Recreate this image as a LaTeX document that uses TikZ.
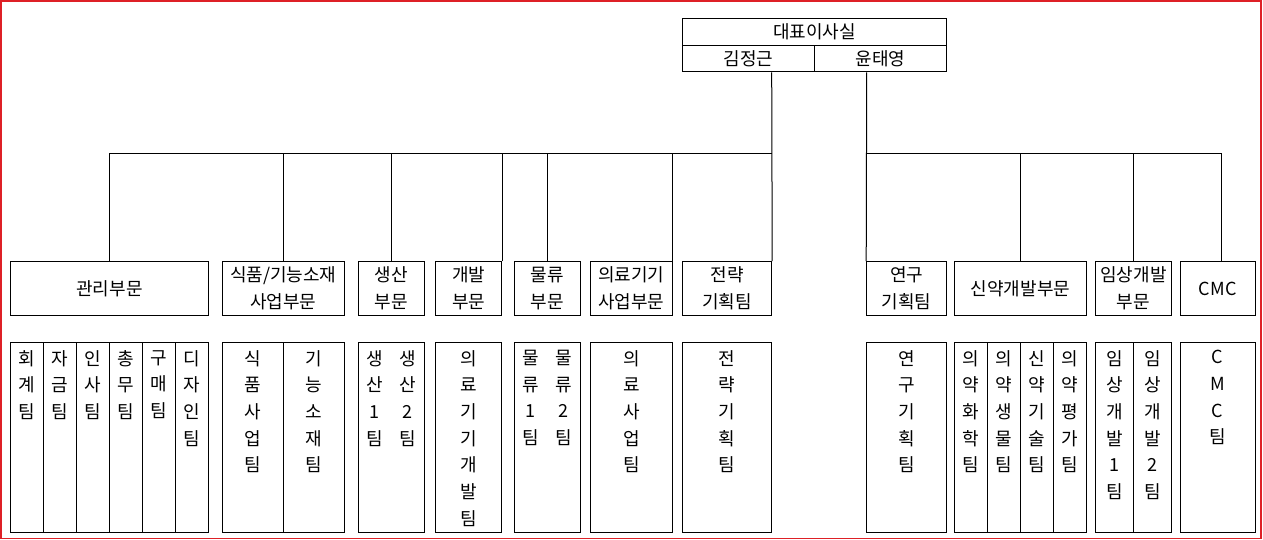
\documentclass[tikz,border=0pt]{standalone}
\usepackage{fontspec}
\newfontfamily\kr{Noto Sans CJK KR}
\usepackage{tikz}
\usetikzlibrary{positioning}
\definecolor{framered}{RGB}{222,32,38}
\tikzset{
every picture/.style={line width=1pt},
%%%%%%%%%%  Node styles
headbox/.style={draw, rectangle, inner sep=0, minimum height=27pt,
                font=\kr\fontsize{18}{26.7}\selectfont},
divbox/.style={draw, rectangle, inner sep=0, minimum height=53.6pt,
               align=center, font=\kr\fontsize{18}{26.7}\selectfont},
teambox/.style={draw, rectangle, inner sep=0, minimum height=190pt},
teamtext/.style={inner sep=0, align=center,
                 font=\kr\fontsize{18}{26.7}\selectfont,
                 execute at begin node={\vphantom{팀}}},
}

\begin{document}
\begin{tikzpicture}[x=1pt,y=-1pt]
\useasboundingbox (0,0) rectangle (1263,540);
\draw[framered, line width=1.6pt] (0.8,0.8) rectangle (1261,538.4);
%%%%%%% top
\node[headbox, minimum width=264.4pt] (ceo) at (814.5,31.8) {대표이사실};
\node[headbox, minimum width=132pt, minimum height=26.7pt] (kim) at (748.3,58.65) {김정근};
\node[headbox, minimum width=132.4pt, minimum height=26.7pt] (yoon) at (880.5,58.65) {윤태영};
\coordinate (busL) at (771.7,153.5);
\coordinate (busR) at (866.7,153.5);
%%%%%%% divisions
\node[divbox, minimum width=198.4pt] (mgmt) at (109.5,288.5) {관리부문};
\node[divbox, minimum width=122pt] (food) at (283.3,288.5) {식품/기능소재\\사업부문};
\node[divbox, minimum width=66pt] (prod) at (391.3,288.5) {생산\\부문};
\node[divbox, minimum width=66pt] (dev) at (468.7,288.5) {개발\\부문};
\node[divbox, minimum width=66pt] (logi) at (547.3,288.5) {물류\\부문};
\node[divbox, minimum width=82pt] (med) at (631.3,288.5) {의료기기\\사업부문};
\node[divbox, minimum width=89.4pt] (strat) at (727,288.5) {전략\\기획팀};
\node[divbox, minimum width=80pt] (rnd) at (906.7,288.5) {연구\\기획팀};
\node[divbox, minimum width=132.4pt] (drug) at (1020.5,288.5) {신약개발부문};
\node[divbox, minimum width=76.4pt] (clin) at (1133.5,288.5) {임상개발\\부문};
\node[divbox, minimum width=74.7pt] (cmc) at (1217.7,288.5) {CMC};
%%%%%%% connectors
\draw (kim.south -| busL) -- (strat.north east);
\draw (mgmt.north) |- (busL);
\foreach \d in {food,prod,logi} \draw (\d.north) -- (\d.north |- busL);
\foreach \d in {dev,med} \draw (\d.north east) -- (\d.north east |- busL);
\draw (yoon.south -| busR) -- (rnd.north west);
\draw (busR) -| ([xshift=4pt]cmc.north);
\foreach \d in {drug,clin} \draw (\d.north) -- (\d.north |- busR);
%%%%%%% teams
\foreach \lbl [count=\i] in {{회\\계\\팀},{자\\금\\팀},{인\\사\\팀},{총\\무\\팀},{구\\매\\팀},{디\\자\\인\\팀}}{
  \node[teambox, minimum width=33pt] (mgmt\i) at ({-6.2+33*\i},437.7) {};
  \node[teamtext, below=7.5pt of mgmt\i.north] (mgmt\i-t) {\lbl};
}
\node[teambox, minimum width=61.4pt] (food1) at (253,437.7) {};
\node[teambox, minimum width=60.6pt] (food2) at (314,437.7) {};
\node[teamtext, below=7.5pt of food1.north] (food1-t) {식\\품\\사\\업\\팀};
\node[teamtext, below=7.5pt of food2.north] (food2-t) {기\\능\\소\\재\\팀};
\node[teambox, minimum width=66pt] (prodT) at (391.3,437.7) {};
\node[teamtext, below=7.5pt of prodT.north, xshift=-16.5pt] (prod1-t) {생\\산\\1\\팀};
\node[teamtext, below=7.5pt of prodT.north, xshift=16.5pt] (prod2-t) {생\\산\\2\\팀};
\node[teambox, minimum width=66pt] (devT) at (468.7,437.7) {};
\node[teamtext, below=7.5pt of devT.north] (devT-t) {의\\료\\기\\기\\개\\발\\팀};
\node[teambox, minimum width=66pt] (logiT) at (547.3,437.7) {};
\node[teamtext, below=7.5pt of logiT.north, xshift=-16.5pt] (logi1-t) {물\\류\\1\\팀};
\node[teamtext, below=7.5pt of logiT.north, xshift=16.5pt] (logi2-t) {물\\류\\2\\팀};
\node[teambox, minimum width=82pt] (medT) at (631.3,437.7) {};
\node[teamtext, below=7.5pt of medT.north] (medT-t) {의\\료\\사\\업\\팀};
\node[teambox, minimum width=89.4pt] (stratT) at (727,437.7) {};
\node[teamtext, below=7.5pt of stratT.north] (stratT-t) {전\\략\\기\\획\\팀};
\node[teambox, minimum width=80pt] (rndT) at (906.7,437.7) {};
\node[teamtext, below=7.5pt of rndT.north] (rndT-t) {연\\구\\기\\획\\팀};
\foreach \lbl [count=\i] in {{의\\약\\화\\학\\팀},{의\\약\\생\\물\\팀},{신\\약\\기\\술\\팀},{의\\약\\평\\가\\팀}}{
  \node[teambox, minimum width=33pt] (drug\i) at ({937.8+33*\i},437.7) {};
  \node[teamtext, below=7.5pt of drug\i.north] (drug\i-t) {\lbl};
}
\node[teambox, minimum width=38pt] (clin1) at (1114.3,437.7) {};
\node[teambox, minimum width=38.4pt] (clin2) at (1152.5,437.7) {};
\node[teamtext, below=7.5pt of clin1.north] (clin1-t) {임\\상\\개\\발\\1\\팀};
\node[teamtext, below=7.5pt of clin2.north] (clin2-t) {임\\상\\개\\발\\2\\팀};
\node[teambox, minimum width=74.7pt] (cmcT) at (1217.7,437.7) {};
\node[teamtext, below=7.5pt of cmcT.north] (cmcT-t) {C\\M\\C\\팀};
\end{tikzpicture}
\end{document}
